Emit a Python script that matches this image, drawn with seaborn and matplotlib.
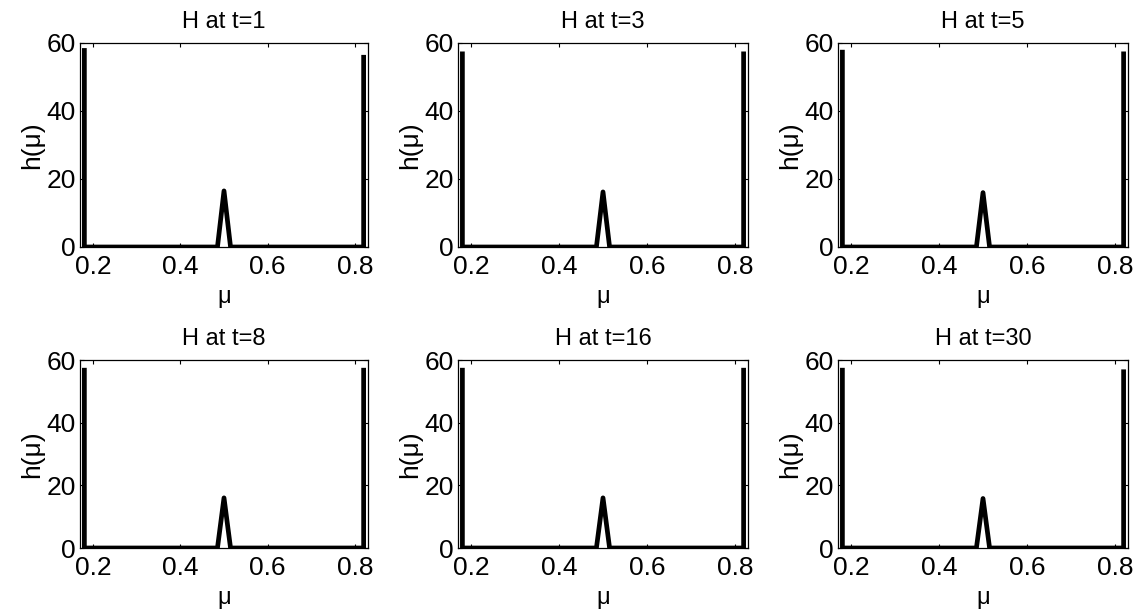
import matplotlib
matplotlib.use("Agg")
import matplotlib.pyplot as plt
import seaborn as sns
import pandas as pd

# Data (key points of h(mu) for each time step)
titles = ["H at t=1", "H at t=3", "H at t=5", "H at t=8", "H at t=16", "H at t=30"]
mu = [0.18, 0.18, 0.485, 0.50, 0.515, 0.82, 0.82]
h_t1 = [58.5, 0, 0, 16.5, 0, 0, 56.5]
h_t3 = [57.5, 0, 0, 16.2, 0, 0, 57.5]
h_t5 = [58.0, 0, 0, 16.0, 0, 0, 57.5]
h_t8 = [57.5, 0, 0, 16.0, 0, 0, 57.5]
h_t16 = [57.5, 0, 0, 16.0, 0, 0, 57.5]
h_t30 = [57.5, 0, 0, 15.8, 0, 0, 57.0]
series = [h_t1, h_t3, h_t5, h_t8, h_t16, h_t30]
xticks = [0.2, 0.4, 0.6, 0.8]
yticks = [0, 20, 40, 60]

sns.set_style("ticks")
plt.rcParams['font.family'] = ['Liberation Sans', 'DejaVu Sans']
plt.rcParams['axes.linewidth'] = 0.9
plt.rcParams['xtick.direction'] = 'in'
plt.rcParams['ytick.direction'] = 'in'
plt.rcParams['text.color'] = 'black'
plt.rcParams['axes.labelcolor'] = 'black'
plt.rcParams['axes.titlecolor'] = 'black'

fig = plt.figure(figsize=(11.35, 6.15), dpi=100)
W, H = 1135, 615
col_px = [(80, 368), (458, 748), (838, 1128)]
row_px = [(43, 247), (360, 548)]

for i, (title, h) in enumerate(zip(titles, series)):
    r, c = divmod(i, 3)
    x0, x1 = col_px[c]
    y0, y1 = row_px[r]
    ax = fig.add_axes([x0 / W, 1 - y1 / H, (x1 - x0) / W, (y1 - y0) / H])
    df = pd.DataFrame({"mu": mu, "h": h})
    sns.lineplot(data=df, x="mu", y="h", ax=ax, estimator=None, sort=False,
                 color="black", linewidth=3.4)
    ax.lines[0].set_solid_capstyle('butt')
    ax.set_xlim(0.17, 0.83)
    ax.set_ylim(0, 60)
    ax.set_xticks(xticks)
    ax.set_xticklabels([f"{v:.1f}" for v in xticks])
    ax.set_yticks(yticks)
    ax.tick_params(axis='both', which='both', direction='in', length=3, width=0.8,
                   labelsize=19, top=True, right=True, pad=3, colors='black')
    ax.tick_params(axis='x', pad=6)
    for s in ax.spines.values():
        s.set_visible(True)
        s.set_color('black')
    ax.set_title(title, fontsize=17, pad=11, color='black')
    ax.set_xlabel("μ", fontsize=17, labelpad=5, color='black')
    ax.set_ylabel("h(μ)", fontsize=19, labelpad=2, color='black')

fig.savefig("out.png", dpi=100, facecolor="white")
